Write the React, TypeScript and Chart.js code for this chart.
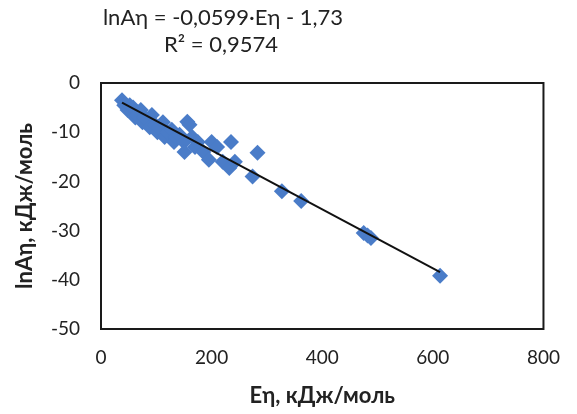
import React, { useEffect, useRef } from "react";
import { Chart, registerables } from "chart.js";

Chart.register(...registerables);

// Measured points: activation energy Eη (kJ/mol) and lnAη
const energies = [38, 42, 48, 52, 58, 62, 65, 72, 75, 78, 85, 88, 92, 98, 102, 105, 112, 115, 120, 128, 132, 135, 142, 150, 151, 156, 160, 165, 170, 175, 185, 195, 200, 210, 220, 232, 235, 242, 274, 283, 327, 362, 475, 482, 488, 613];
const lnA = [-3.5, -4.5, -5.5, -4.5, -5, -7, -6.5, -5.5, -8, -7, -7.5, -9, -6.5, -8.5, -10, -9, -8, -11, -10, -9.5, -12, -11, -10.5, -12, -14, -7.9, -8.5, -11, -13, -12, -14, -15.6, -12, -13, -16, -17.3, -12, -16, -19, -14.2, -22, -24, -30.5, -31, -31.5, -39.2];

// Linear trend line coefficients
const slope = -0.0599;
const intercept = -1.73;
const rSquared = "0,9574";
const equationText = "lnAη = -0,0599·Eη - 1,73";

const xTicks = [0, 200, 400, 600, 800];
const yTicks = [0, -10, -20, -30, -40, -50];

const xTitle = "Eη, кДж/моль";
const yTitle = "lnAη, кДж/моль";

const FONT = "Lato, 'Open Sans', sans-serif";

export default function App() {
  const ref = useRef<HTMLCanvasElement | null>(null);

  useEffect(() => {
    if (!ref.current) return;
    const xMin = Math.min(...energies);
    const xMax = Math.max(...energies);
    const trend = [
      { x: xMin, y: slope * xMin + intercept },
      { x: xMax, y: slope * xMax + intercept },
    ];
    const points = energies.map((e, i) => ({ x: e, y: lnA[i] }));

    const framePlugin = {
      id: "frame",
      afterDatasetsDraw(chart: any) {
        const { ctx, chartArea } = chart;
        ctx.save();
        ctx.strokeStyle = "#1a1a1a";
        ctx.lineWidth = 2;
        ctx.strokeRect(chartArea.left, chartArea.top, chartArea.right - chartArea.left, chartArea.bottom - chartArea.top);
        ctx.restore();
      },
      afterDraw(chart: any) {
        const { ctx, chartArea } = chart;
        ctx.save();
        ctx.fillStyle = "#222";
        ctx.font = `22px ${FONT}`;
        ctx.textAlign = "center";
        ctx.textBaseline = "middle";
        ctx.fillText(equationText, chartArea.left + 122, chartArea.top - 65);
        ctx.fillText("R² = " + rSquared, chartArea.left + 120, chartArea.top - 38);
        ctx.restore();
      },
    };

    const chart = new Chart(ref.current, {
      type: "scatter",
      data: {
        datasets: [
          {
            type: "scatter",
            data: points,
            pointStyle: "rectRot",
            pointRadius: 8,
            pointHoverRadius: 8,
            backgroundColor: "#4a7cc8",
            borderColor: "#4a7cc8",
            borderWidth: 0,
            order: 2,
          },
          {
            type: "line",
            data: trend,
            borderColor: "#111",
            borderWidth: 2,
            pointRadius: 0,
            fill: false,
            order: 1,
          } as any,
        ],
      },
      plugins: [framePlugin],
      options: {
        animation: false,
        responsive: false,
        maintainAspectRatio: false,
        layout: { padding: { top: 83, right: 21, left: 0, bottom: 0 } },
        plugins: {
          legend: { display: false },
          tooltip: { enabled: false },
        },
        scales: {
          x: {
            type: "linear",
            min: 0,
            max: 800,
            afterBuildTicks: (s: any) => {
              s.ticks = xTicks.map((v) => ({ value: v }));
            },
            afterFit: (s: any) => {
              s.height = 85;
            },
            grid: { display: false, drawTicks: false },
            border: { display: false },
            ticks: { padding: 17, color: "#222", font: { family: FONT, size: 19 } },
            title: {
              display: true,
              text: xTitle,
              color: "#222",
              font: { family: FONT, size: 22, weight: "bold" },
              padding: { top: 0, bottom: 5 },
            },
          },
          y: {
            type: "linear",
            min: -50,
            max: 0,
            afterBuildTicks: (s: any) => {
              s.ticks = yTicks.map((v) => ({ value: v }));
            },
            afterFit: (s: any) => {
              s.width = 101;
            },
            grid: { display: false, drawTicks: false },
            border: { display: false },
            ticks: { padding: 21, color: "#222", font: { family: FONT, size: 19 } },
            title: {
              display: true,
              text: yTitle,
              color: "#222",
              font: { family: FONT, size: 22, weight: "bold" },
              padding: { top: 12, bottom: 0 },
            },
          },
        },
      },
    });
    return () => chart.destroy();
  }, []);

  return (
    <div style={{ position: "absolute", left: 0, top: 0, width: 577, height: 414, background: "#fff" }}>
      <canvas ref={ref} width={577} height={414} style={{ width: 577, height: 414, display: "block" }} />
    </div>
  );
}
